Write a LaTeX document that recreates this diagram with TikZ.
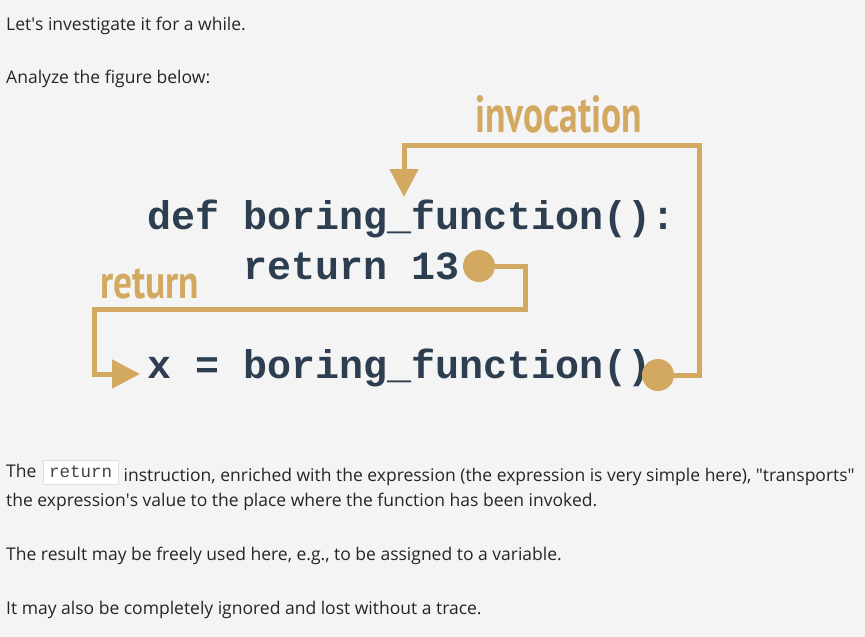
\documentclass[tikz,border=0pt]{standalone}
\usepackage{fontspec}
\setmainfont{Open Sans}
\newfontfamily\codefont{Liberation Mono}
\newfontfamily\tagfont{PT Sans}
\usetikzlibrary{arrows.meta,positioning}
\definecolor{pagebg}{HTML}{F4F4F4}
\definecolor{gold}{HTML}{D3A962}
\definecolor{codeink}{HTML}{2C3E50}
\definecolor{bodyink}{HTML}{252525}
\definecolor{snipline}{HTML}{E0E0E0}
\definecolor{snipink}{HTML}{444444}
\tikzset{
  body/.style={anchor=base west, inner sep=0pt, text=bodyink, font=\fontsize{17.5}{21}\selectfont},
  code/.style={anchor=base west, inner sep=0pt, text=codeink, font=\codefont\bfseries\fontsize{40}{40}\selectfont},
  tag/.style={anchor=base west, inner sep=0pt, text=gold, font=\tagfont\bfseries\fontsize{40}{40}\selectfont},
  snippet/.style={draw=snipline, fill=white, line width=0.8pt, inner xsep=6pt, inner ysep=0pt,
    text height=17pt, text depth=7pt, text=snipink, font=\codefont\fontsize{17.5}{19}\selectfont},
  flow/.style={draw=gold, line width=5pt},
  flowtip/.style={-{Triangle[length=28pt,width=28pt]}},
  joint/.style={circle, fill=gold, inner sep=0pt, minimum size=32pt},
}
\begin{document}
\begin{tikzpicture}[x=1pt, y=-1pt]
% 1. page and prose above the figure
\fill[pagebg] (0,0) rectangle (865,637);
\node[body] (intro) at (6,30) {Let\textquotesingle s investigate it for a while.};
\node[body] (ask) at (6,83) {Analyze the figure below:};

% 2. the three code lines
\node[code] (defline) at (147,229) {def boring\_function():};
\node[code] (retline) at (243,279) {return 13};
\node[code] (callline) at (147,378) {x = boring\_function()};

% 3. dots and tag words
\node[joint] (retdot) at (479,266) {};
\node[joint] (calldot) at (658,375) {};
\node[tag] (invtag) at (475,132) {\resizebox{167pt}{37pt}{invocation}};
\node[tag] (rettag) at (100,298) {\resizebox{99pt}{30pt}{return}};

% 4. return path: from "13" back to the call
\coordinate (retturn) at (525,309);
\coordinate (retback) at (94,309);
\coordinate (callin) at (140,374);
\draw[flow, flowtip] (retdot) -| (retturn) -- (retback) |- (callin);

% 5. invocation path: from the call up to the def
\coordinate (invturn) at (699,145);
\coordinate (defin) at (404,197);
\draw[flow, flowtip] (calldot) -| (invturn) -| (defin);

% 6. prose below the figure
\node[body] (para1) at (6,477) {The};
\node[snippet, right=6pt of para1.base east, anchor=base west] (retword) {return};
\node[body, right=5pt of retword.base east] (para1b) {instruction, enriched with the expression (the expression is very simple here), \textquotedbl transports\textquotedbl};
\node[body] (para2) at (6,506) {the expression\textquotesingle s value to the place where the function has been invoked.};
\node[body] (para3) at (6,560) {The result may be freely used here, e.g., to be assigned to a variable.};
\node[body] (para4) at (6,614) {It may also be completely ignored and lost without a trace.};
\end{tikzpicture}
\end{document}
